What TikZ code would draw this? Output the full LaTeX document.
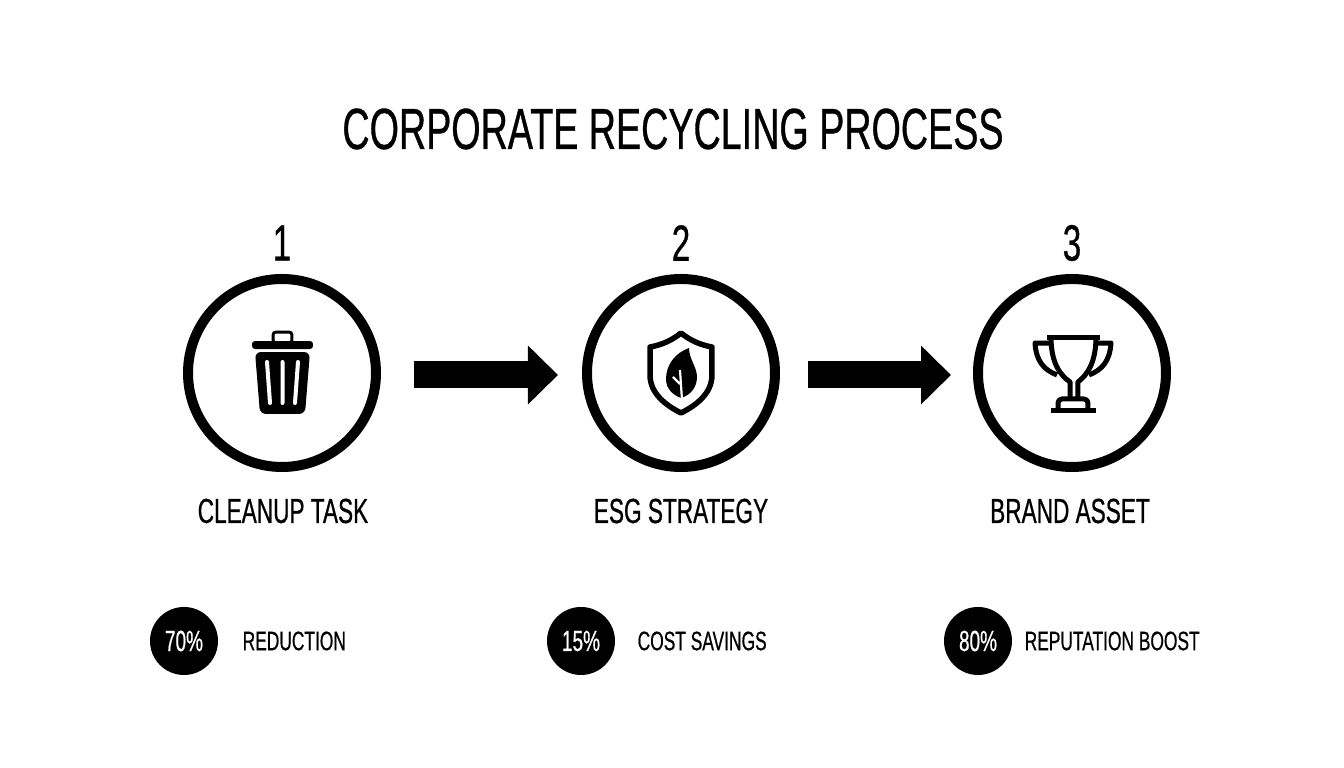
\documentclass[tikz,border=0pt]{standalone}
\usepackage{fontspec}
\setmainfont[FakeStretch=0.65,FakeBold=0.6]{Liberation Sans}
\usetikzlibrary{arrows.meta}
\tikzset{
  stage/.style={draw=black,line width=.1cm,circle,minimum size=1.88cm,inner sep=0pt},
  badge/.style={fill=black,circle,minimum size=.68cm,inner sep=0pt,text=white,font=\fontsize{8.3}{10}\selectfont},
  number/.style={font=\fontsize{14.5}{16}\selectfont},
  caption/.style={font=\fontsize{9.9}{12}\selectfont},
  metric/.style={anchor=west,inner sep=0pt,font=\fontsize{7.6}{10}\selectfont},
  flow/.style={line width=.27cm,-{Triangle[length=.3cm,width=.57cm]}},
  icon/.style={line width=.05cm,line join=round},
}
\begin{document}
\begin{tikzpicture}
\useasboundingbox (0,0) rectangle (13.44,7.68);

\node (T) at (6.73,6.39) {\fontsize{16.5}{20}\selectfont CORPORATE RECYCLING PROCESS};

\node[stage] (A) at (2.82,3.95) {};
\node[stage] (B) at (6.81,3.95) {};
\node[stage] (C) at (10.72,3.95) {};

\node[number] (NA) at (2.82,5.25) {1};
\node[number] (NB) at (6.81,5.25) {2};
\node[number] (NC) at (10.72,5.25) {3};

\node[caption] (LA) at (2.83,2.57) {CLEANUP TASK};
\node[caption] (LB) at (6.81,2.57) {ESG STRATEGY};
\node[caption] (LC) at (10.70,2.57) {BRAND ASSET};

\path[flow,shorten <=.33cm,shorten >=.24cm] ([yshift=-.02cm]A.east) edge ([yshift=-.02cm]B.west);
\path[flow,shorten <=.28cm,shorten >=.22cm] ([yshift=-.02cm]B.east) edge ([yshift=-.02cm]C.west);

% bin
\begin{scope}[shift={(A)},x=.01cm,y=-.01cm]
\draw[line width=.03cm,rounded corners=.03cm] (-9,-41) rectangle (10,-30);
\fill[rounded corners=.03cm] (-30,-32) rectangle (31,-24);
\fill[rounded corners=.06cm] (-27,-21) -- (28,-21) -- (23,41) -- (-22,41) -- cycle;
\draw[white,line width=.04cm,line cap=round] (-15,-11) -- (-12,30) (0.5,-11) -- (0.5,30) (16,-11) -- (13,30);
\end{scope}

% shield
\begin{scope}[shift={(B)},x=.01cm,y=-.01cm]
\draw[icon,line width=.055cm] (0,-40) .. controls (-10,-32) and (-20,-28) .. (-31,-26) -- (-31,2) .. controls (-31,20) and (-16,32) .. (0,40) .. controls (16,32) and (31,20) .. (31,2) -- (31,-26) .. controls (20,-28) and (10,-32) .. (0,-40) -- cycle;
\fill (8,-25) .. controls (-6,-20) and (-15,-8) .. (-15,6) .. controls (-15,16) and (-8,22) .. (0,25) .. controls (10,22) and (16,14) .. (16,4) .. controls (16,-6) and (8,-14) .. (8,-25) -- cycle;
\draw[white,line width=.022cm] (-1,-3) -- (1,27) (-8,4) -- (-1,11);
\end{scope}

% cup
\begin{scope}[shift={(C)},x=.01cm,y=-.01cm]
\draw[icon] (-25,-36) -- (28,-36);
\draw[icon] (-21,-36) .. controls (-21,-10) and (-12,2) .. (-2,9) -- (-2,25);
\draw[icon] (24,-36) .. controls (24,-10) and (15,2) .. (6,9) -- (6,25);
\draw[icon] (-23,-30) -- (-37,-30) .. controls (-36,-12) and (-28,-3) .. (-15,2);
\draw[icon] (25,-30) -- (39,-30) .. controls (38,-12) and (30,-3) .. (17,2);
\draw[icon,rounded corners=.04cm] (-14,38) -- (-14,26) -- (16,26) -- (16,38);
\draw[icon] (-21,38) -- (24,38);
\end{scope}

\node[badge] (BA) at (1.84,1.27) {70\%};
\node[badge] (BB) at (5.81,1.27) {15\%};
\node[badge] (BC) at (9.78,1.27) {80\%};

\node[metric] (MA) at (2.42,1.27) {REDUCTION};
\node[metric] (MB) at (6.37,1.27) {COST SAVINGS};
\node[metric] (MC) at (10.24,1.27) {REPUTATION BOOST};
\end{tikzpicture}
\end{document}
